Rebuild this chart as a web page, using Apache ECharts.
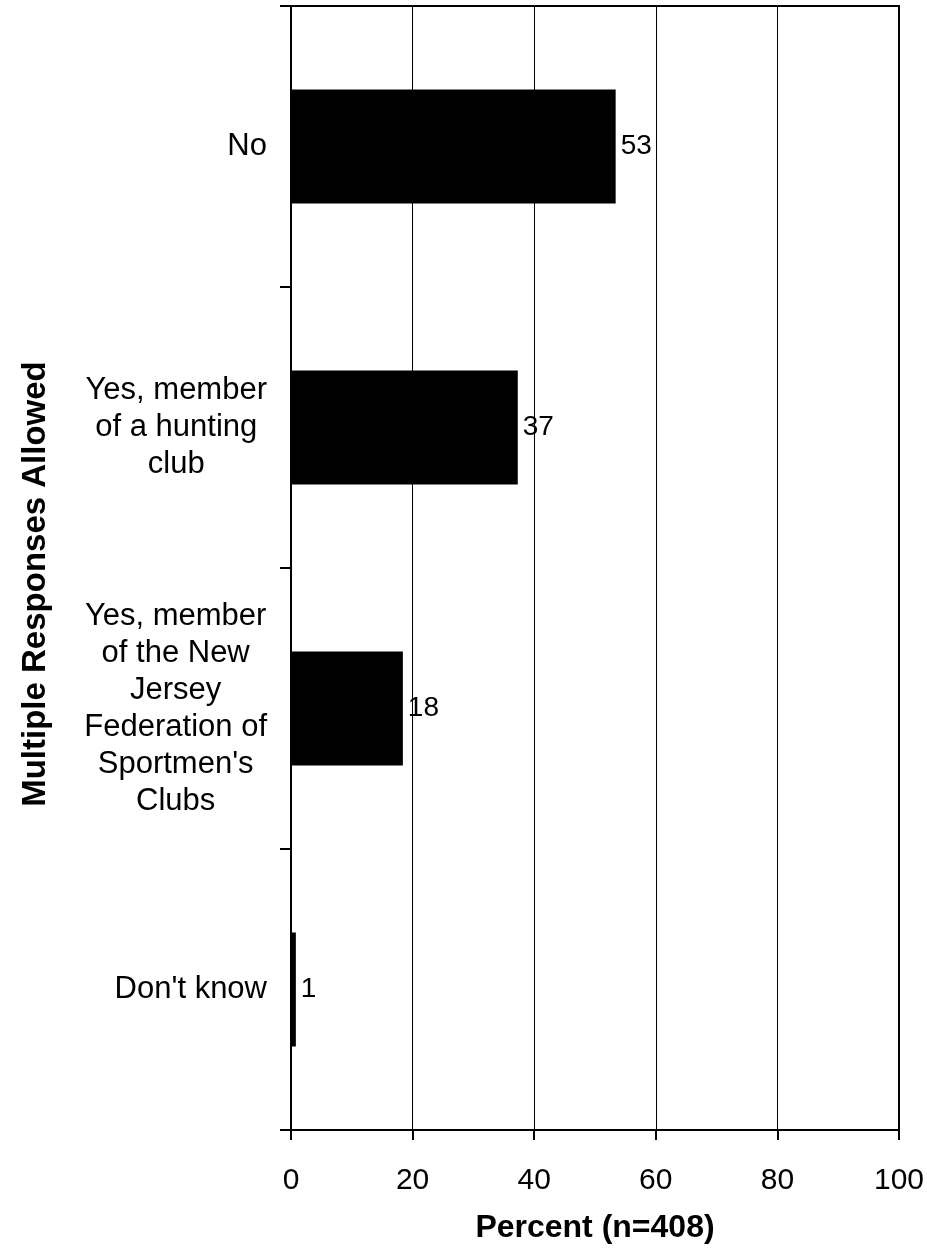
<!DOCTYPE html>
<html>
<head>
<meta charset="utf-8">
<script src="https://cdn.jsdelivr.net/npm/echarts@6/dist/echarts.min.js"></script>
<style>
  html, body { margin: 0; padding: 0; background: #fff; }
  #chart { width: 927px; height: 1251px; }
</style>
</head>
<body>
<div id="chart"></div>
<script>
var categories = [
  'No',
  'Yes, member\nof a hunting\nclub',
  'Yes, member\nof the New\nJersey\nFederation of\nSportmen\'s\nClubs',
  'Don\'t know'
];
var percentValues = [53.4, 37.3, 18.4, 0.8];
var xTicks = [0, 20, 40, 60, 80, 100];

var fontFam = '"Liberation Sans", Arial, Helvetica, sans-serif';

var chart = echarts.init(document.getElementById('chart'));

var option = {
  backgroundColor: '#fff',
  animation: false,
  grid: {
    left: 291,
    right: 28,
    top: 6,
    bottom: 121,
    show: true,
    borderColor: '#000',
    borderWidth: 2
  },
  xAxis: {
    type: 'value',
    min: xTicks[0],
    max: xTicks[xTicks.length - 1],
    interval: 20,
    name: 'Percent (n=408)',
    nameLocation: 'middle',
    nameGap: 82,
    nameTextStyle: {
      color: '#000',
      fontFamily: fontFam,
      fontSize: 32,
      fontWeight: 'bold'
    },
    axisLine: { show: true, lineStyle: { color: '#000', width: 2 } },
    axisTick: { show: true, length: 10, lineStyle: { color: '#000', width: 2 } },
    axisLabel: {
      color: '#000',
      fontFamily: fontFam,
      fontSize: 30,
      margin: 36
    },
    splitLine: { show: true, lineStyle: { color: '#000', width: 1 } }
  },
  yAxis: {
    type: 'category',
    data: categories,
    inverse: true,
    name: 'Multiple Responses Allowed',
    nameLocation: 'middle',
    nameGap: 239,
    nameTextStyle: {
      color: '#000',
      fontFamily: fontFam,
      fontSize: 33,
      fontWeight: 'bold',
      padding: [0, 32, 0, 0]
    },
    axisLine: { show: true, lineStyle: { color: '#000', width: 2 } },
    axisTick: { show: true, length: 11, lineStyle: { color: '#000', width: 2 } },
    axisLabel: {
      margin: 24,
      // each line centred inside a right-aligned block
      formatter: function (val) {
        return val.split('\n').map(function (s) { return '{c|' + s + '}'; }).join('\n');
      },
      rich: {
        c: {
          align: 'center',
          color: '#000',
          fontFamily: fontFam,
          fontSize: 31,
          lineHeight: 37
        }
      }
    },
    splitLine: { show: false }
  },
  series: [
    {
      type: 'bar',
      data: percentValues,
      barWidth: 114,
      itemStyle: { color: '#000' },
      label: {
        show: true,
        position: 'right',
        distance: 5,
        color: '#000',
        fontFamily: fontFam,
        fontSize: 28,
        formatter: function (p) { return Math.round(p.value); }
      }
    }
  ]
};

chart.setOption(option);
</script>
</body>
</html>
